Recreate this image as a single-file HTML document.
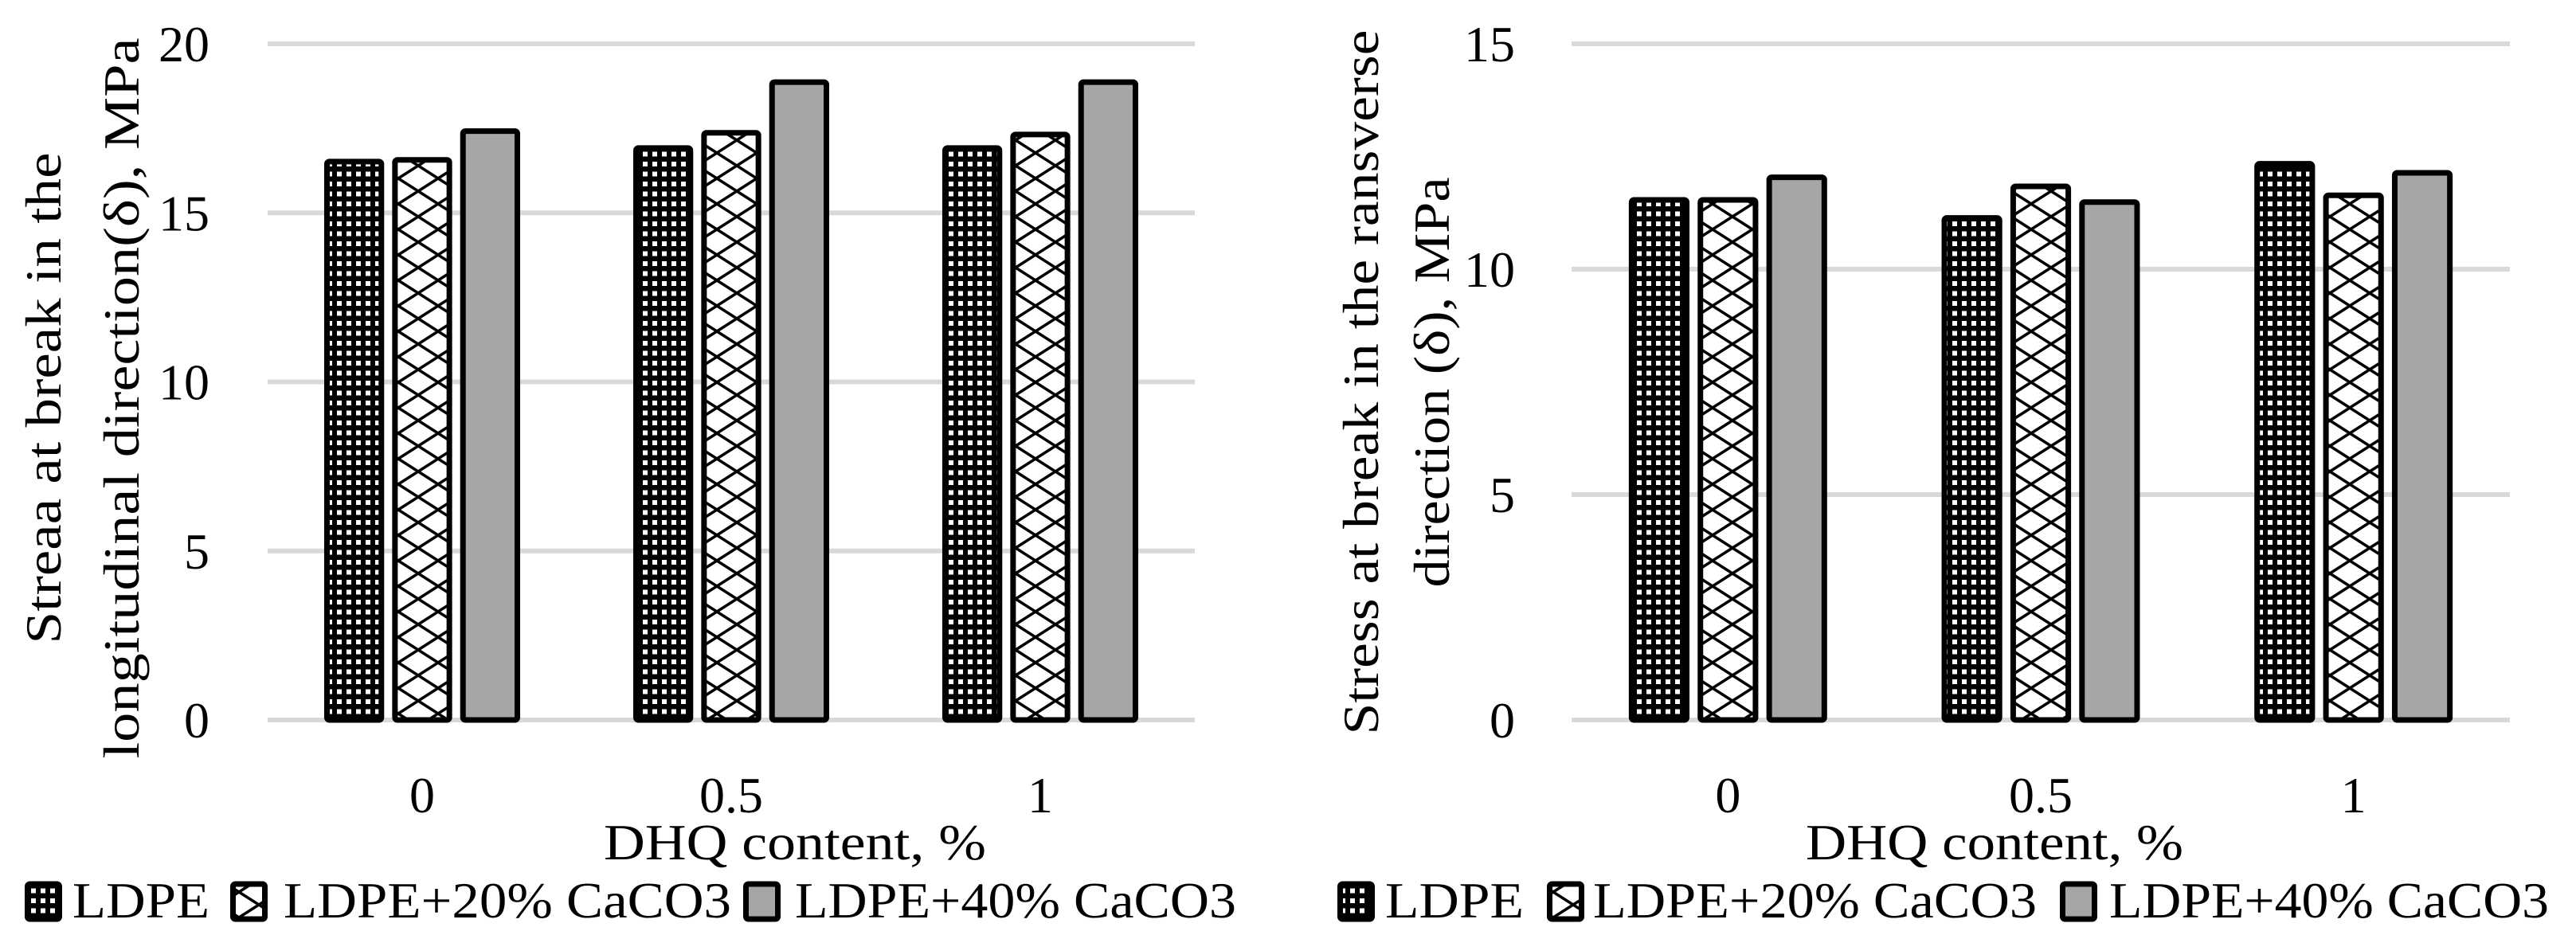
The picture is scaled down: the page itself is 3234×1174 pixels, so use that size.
<!DOCTYPE html>
<html><head><meta charset="utf-8">
<style>
html,body{margin:0;padding:0;background:#fff;}
svg{display:block;}
text{font-family:"Liberation Serif",serif;fill:#000;}
</style></head>
<body>
<svg id="chart" width="3234" height="1174" viewBox="0 0 3234 1174" xmlns="http://www.w3.org/2000/svg">
<defs>
  <pattern id="pDots" patternUnits="userSpaceOnUse" width="12" height="12.5">
    <rect width="12" height="12.5" fill="#000"/>
    <rect x="3" y="3" width="6" height="6" fill="#fff"/>
  </pattern>
  <pattern id="pZig" patternUnits="userSpaceOnUse" width="50" height="64">
    <rect width="50" height="64" fill="#fff"/>
    <path d="M0,0 L50,32 L0,64 M50,0 L0,32 L50,64" stroke="#000" stroke-width="3.5" fill="none"/>
  </pattern>
</defs>
<g id="root"></g>
</svg>
<script>
const categories = ["0", "0.5", "1"];
const seriesNames = ["LDPE", "LDPE+20% CaCO3", "LDPE+40% CaCO3"];
const longLDPE = [16.6, 17.0, 17.0];
const long20 = [16.65, 17.45, 17.4];
const long40 = [17.5, 18.95, 18.95];
const transLDPE = [11.6, 11.2, 12.4];
const trans20 = [11.6, 11.9, 11.7];
const trans40 = [12.1, 11.55, 12.2];
const longTicks = [0, 5, 10, 15, 20];
const transTicks = [0, 5, 10, 15];

const NS = "http://www.w3.org/2000/svg";
const root = document.getElementById("root");
const fills = ["url(#pDots)", "url(#pZig)", "#a6a6a6"];
const seriesKeys = ["ldpe", "ldpe-20-caco3", "ldpe-40-caco3"];

function mk(tag, attrs, parent) {
  const e = document.createElementNS(NS, tag);
  for (const k in attrs) e.setAttribute(k, attrs[k]);
  (parent || root).appendChild(e);
  return e;
}

function drawChart(cfg) {
  const g = mk("g", {});
  
  
  const yMax = cfg.ticks[cfg.ticks.length - 1];
  const yScale = v => cfg.y0 - (v / yMax) * (cfg.y0 - cfg.yTop);
  const cat = (cfg.x1 - cfg.x0) / cfg.categories.length;
  const xCenter = i => cfg.x0 + cat * (i + 0.5);

  cfg.ticks.forEach(t => {
    const y = yScale(t);
    const l = mk("line", {x1: cfg.x0, x2: cfg.x1, y1: y, y2: y, stroke: "#d9d9d9", "stroke-width": 6}, g);
    
    
    const tx = mk("text", {x: cfg.tickRight, y: y + 22, "font-size": 64, "text-anchor": "end"}, g);
    tx.textContent = String(t);
    
    
  });

  const bw = cat * 0.194, gap = cat * 0.026;
  cfg.series.forEach((vals, s) => {
    vals.forEach((v, i) => {
      const cx = xCenter(i);
      const x = cx - 1.5 * bw - gap + s * (bw + gap);
      const yt = yScale(v);
      const r = mk("rect", {x: x + 3.5, y: yt + 3.5, width: bw - 7, height: cfg.y0 - yt - 3.5,
        fill: fills[s], stroke: "#000", "stroke-width": 7, rx: 3}, g);
      
      
    });
  });

  cfg.categories.forEach((c, i) => {
    const t = mk("text", {x: xCenter(i), y: 1020, "font-size": 64, "text-anchor": "middle"}, g);
    t.textContent = c;
    
    
  });

  const xt = mk("text", {x: cfg.xTitleX, y: 1079, "font-size": 64, "text-anchor": "middle", textLength: cfg.xTitleLen, lengthAdjust: "spacingAndGlyphs"}, g);
  xt.textContent = "DHQ content, %";
  
  

  cfg.yTitle.forEach((ln, k) => {
    const t = mk("text", {x: 0, y: 0, "font-size": 64, "text-anchor": "middle",
      transform: "translate(" + (ln.x + 22) + "," + cfg.yTitleCy + ") rotate(-90)",
      textLength: ln.len, lengthAdjust: "spacingAndGlyphs"}, g);
    t.textContent = ln.text;
    
    
  });

  const lg = mk("g", {}, g);
  
  
  cfg.legend.forEach((le, s) => {
    const b = mk("rect", {x: le.bx + 3.5, y: 1110, width: 40, height: 44, fill: fills[s], stroke: "#000", "stroke-width": 7, rx: 3}, lg);
    
    
    const t = mk("text", {x: le.tx, y: 1152, "font-size": 64, textLength: le.tl, lengthAdjust: "spacingAndGlyphs"}, lg);
    t.textContent = seriesNames[s];
    
    
  });
}

drawChart({
  name: "longitudinal-chart", categories: categories, ticks: longTicks,
  series: [longLDPE, long20, long40],
  x0: 336, x1: 1500, y0: 904, yTop: 55, tickRight: 263,
  xTitleX: 998, xTitleLen: 480,
  yTitleCy: 500,
  yTitle: [{x: 54, text: "Streaa at break in the", len: 617},
           {x: 152, text: "longitudinal direction(δ), MPa", len: 905}],
  legend: [{bx: 31, tx: 91, tl: 172}, {bx: 289, tx: 356, tl: 562}, {bx: 933, tx: 998, tl: 554}]
});
drawChart({
  name: "transverse-chart", categories: categories, ticks: transTicks,
  series: [transLDPE, trans20, trans40],
  x0: 1973, x1: 3151, y0: 904, yTop: 55, tickRight: 1902,
  xTitleX: 2504, xTitleLen: 474,
  yTitleCy: 480,
  yTitle: [{x: 1708, text: "Stress at break in the ransverse", len: 885},
           {x: 1797, text: "direction (δ), MPa", len: 515}],
  legend: [{bx: 1679, tx: 1739, tl: 174}, {bx: 1942, tx: 2000, tl: 557}, {bx: 2586, tx: 2648, tl: 552}]
});
</script>
</body></html>
